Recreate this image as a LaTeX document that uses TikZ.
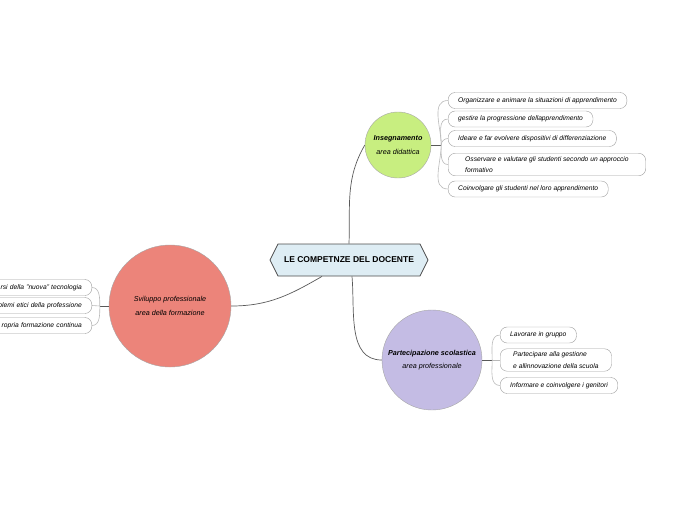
\documentclass[tikz,border=0pt]{standalone}
\usepackage{fontspec}
\setmainfont{Liberation Sans}
\usetikzlibrary{shapes.symbols, calc}

\definecolor{verde}{HTML}{C8EE80}
\definecolor{salmone}{HTML}{EC847A}
\definecolor{lilla}{HTML}{C4BCE4}
\definecolor{azzurro}{HTML}{DEEDF4}

\begin{document}
\begin{tikzpicture}[x=1pt, y=1pt,
    tema/.style={circle, draw=gray!70, inner sep=0pt, align=center,
      font=\fontsize{7.2}{13.5}\selectfont\itshape},
    voce/.style={draw=gray!75, fill=white, rounded corners=7pt, inner xsep=10pt,
      inner ysep=3pt, minimum height=16pt, align=left,
      font=\fontsize{6.7}{11.5}\selectfont\itshape},
    ramo/.style={draw=black!65, line width=0.7pt},
    rametto/.style={draw=gray!55, line width=0.6pt}]
    \useasboundingbox (0,0) rectangle (696,-520);

    % Nodo centrale
    \node[signal, signal to=west and east, signal pointer angle=127,
      draw=black!70, fill=azzurro, line width=0.8pt,
      minimum width=158pt, minimum height=32pt,
      font=\fontsize{8.5}{10}\selectfont\bfseries] (doc) at (349,-260)
      {LE COMPETNZE DEL DOCENTE};

    % Aree
    \node[tema, fill=verde, minimum size=66pt] (ins) at (398,-145)
      {\textbf{Insegnamento}\\area didattica};
    \node[tema, fill=salmone, minimum size=122pt] (svi) at (170,-306)
      {Sviluppo professionale\\area della formazione};
    \node[tema, fill=lilla, minimum size=100pt] (par) at (432,-360)
      {\textbf{Partecipazione scolastica}\\area professionale};

    % Rami principali
    \draw[ramo] (doc.north) to[out=88, in=240] (ins.west);
    \draw[ramo] ([xshift=-27pt]doc.south) to[out=-150, in=0] (svi.east);
    \draw[ramo] ([xshift=3pt]doc.south) to[out=-85, in=180] (par.west);

    % Voci dell'insegnamento
    \node[voce, anchor=west] (i1) at (448,-100.5)
      {Organizzare e animare la situazioni di apprendimento};
    \node[voce, anchor=west] (i2) at (448,-119)
      {gestire la progressione dellapprendimento};
    \node[voce, anchor=west] (i3) at (448,-138.5)
      {Ideare e far evolvere dispositivi di differenziazione};
    \node[voce, anchor=west, inner xsep=17pt] (i4) at (448,-164.5)
      {Osservare e valutare gli studenti secondo un approccio\\formativo};
    \node[voce, anchor=west] (i5) at (448,-189)
      {Coinvolgare gli studenti nel loro apprendimento};

    \coordinate (ib) at ($(ins.east)+(10,0)$);
    \draw[ramo] (ins.east) -- (ib);
    \foreach \n/\a in {i1/90, i2/90, i3/90, i4/-90, i5/-90}
      \draw[rametto] (ib) to[out=\a, in=180] (\n.west);

    % Voci dello sviluppo professionale (tagliate a sinistra)
    \node[voce, anchor=east, text width=120pt, align=right] (s1) at (92,-287.5)
      {rsi della "nuova" tecnologia};
    \node[voce, anchor=east, text width=120pt, align=right] (s2) at (92,-305.5)
      {blemi etici della professione};
    \node[voce, anchor=east, text width=120pt, align=right] (s3) at (92,-325.5)
      {ropria formazione continua};

    \coordinate (sb) at ($(svi.west)+(-9,0)$);
    \draw[ramo] (svi.west) -- (sb);
    \draw[rametto] (sb) to[out=90, in=0] (s1.east);
    \draw[rametto] (sb) -- (s2.east);
    \draw[rametto] (sb) to[out=-90, in=0] (s3.east);

    % Voci della partecipazione scolastica
    \node[voce, anchor=west] (p1) at (500,-335) {Lavorare in gruppo};
    \node[voce, anchor=west, inner xsep=13pt] (p2) at (500,-360)
      {Partecipare alla gestione\\e allinnovazione della scuola};
    \node[voce, anchor=west] (p3) at (500,-385.5)
      {Informare e coinvolgere i genitori};

    \coordinate (pb) at ($(par.east)+(10,0)$);
    \draw[ramo] (par.east) -- (pb);
    \draw[rametto] (pb) to[out=90, in=180] (p1.west);
    \draw[rametto] (pb) -- (p2.west);
    \draw[rametto] (pb) to[out=-90, in=180] (p3.west);
\end{tikzpicture}
\end{document}
